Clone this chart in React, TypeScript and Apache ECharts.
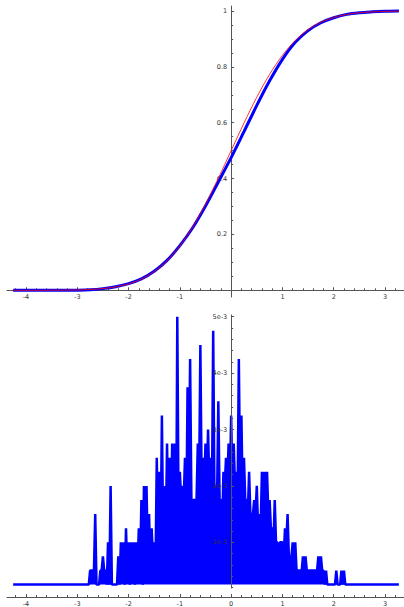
import React, { useEffect, useRef } from 'react';
import * as echarts from 'echarts';

// ---- Top panel: cumulative distribution ----
const cdfX = [-4.25, -4.0, -3.75, -3.5, -3.25, -3.0, -2.75, -2.5, -2.25, -2.0, -1.75, -1.5, -1.25, -1.0, -0.75, -0.5, -0.25, 0.0, 0.25, 0.5, 0.75, 1.0, 1.25, 1.5, 1.75, 2.0, 2.25, 2.5, 2.75, 3.0, 3.25, 3.27];
const normalCdf = [0.00001, 0.00003, 0.00009, 0.00023, 0.00058, 0.00135, 0.00298, 0.00621, 0.01222, 0.02275, 0.04006, 0.06681, 0.10565, 0.15866, 0.22663, 0.30854, 0.40129, 0.5, 0.59871, 0.69146, 0.77337, 0.84134, 0.89435, 0.93319, 0.95994, 0.97725, 0.98778, 0.99379, 0.99702, 0.99865, 0.99942, 0.99946];
const empiricalCdf = [0.0, 0.0, 0.0, 0.0, 0.0, 0.0005, 0.002, 0.006, 0.013, 0.024, 0.041, 0.068, 0.107, 0.160, 0.224, 0.302, 0.388, 0.475, 0.568, 0.662, 0.750, 0.827, 0.888, 0.930, 0.958, 0.976, 0.988, 0.994, 0.997, 0.999, 1.0, 1.0];

// ---- Bottom panel: density trace (values in units of 1e-3) ----
const sampleMin = -4.25;
const sampleMax = 3.27;
const histBaseline = 0.25;
const histStart = -2.8;
const histStep = 0.05;
const histPeaks = [
  0.25, 0.5, 0.5, 1.5, 0.25, 0.5, 0.75, 0.5, 1.0, 2.0,
  0.25, 0.25, 0.75, 1.0, 1.0, 1.25, 1.0, 1.0, 1.0, 1.0,
  1.25, 1.75, 2.0, 2.0, 1.5, 1.25, 1.0, 2.5, 2.25, 3.25,
  2.0, 2.75, 2.5, 2.75, 2.75, 5.0, 2.25, 2.0, 2.5, 3.75,
  4.25, 1.75, 1.75, 2.75, 4.5, 2.5, 2.75, 3.0, 2.5, 4.75,
  2.0, 3.5, 1.75, 2.25, 2.5, 2.75, 3.25, 2.75, 2.25, 4.25,
  3.25, 2.5, 1.75, 2.25, 1.5, 1.75, 2.0, 1.5, 2.25, 2.25,
  2.25, 1.75, 1.25, 1.75, 1.0, 1.0, 1.0, 1.25, 1.5, 0.75,
  1.0, 1.0, 0.5, 0.5, 0.75, 0.75, 0.5, 0.5, 0.5, 0.5,
  0.75, 0.75, 0.5, 0.5, 0.25, 0.25, 0.25, 0.5, 0.25, 0.5,
  0.5, 0.25, 0.25,
];
const histTroughs = [
  0.25, 0.5, 0.5, 0.25, 0.25, 0.5, 0.5, 0.25, 0.25, 0.25,
  0.25, 0.25, 0.25, 0.5, 0.25, 0.5, 0.25, 0.5, 0.25, 0.5,
  0.5, 0.25, 0.5, 0.75, 0.5, 0.75, 0.5, 1.0, 1.0, 1.0,
  1.0, 1.5, 1.25, 1.5, 0.5, 1.5, 1.75, 1.75, 1.25, 2.0,
  1.75, 1.75, 1.75, 2.0, 2.0, 2.0, 2.0, 2.0, 1.75, 1.75,
  1.75, 1.75, 1.25, 2.0, 2.0, 2.0, 2.0, 2.0, 1.75, 2.0,
  1.75, 1.75, 1.5, 1.5, 1.5, 1.5, 1.25, 1.25, 1.75, 1.75,
  1.5, 1.25, 1.0, 1.0, 0.75, 1.0, 0.75, 1.0, 0.75, 0.75,
  0.75, 0.5, 0.5, 0.5, 0.5, 0.5, 0.5, 0.5, 0.5, 0.5,
  0.5, 0.5, 0.25, 0.25, 0.25, 0.25, 0.25, 0.25, 0.25, 0.25,
  0.25, 0.25, 0.25,
];

// ---- Ticks ----
const xTickValues = [-4, -3, -2, -1, 0, 1, 2, 3];
const topXLabels = [-4, -3, -2, -1, 1, 2, 3];
const cdfYTicks = [0.2, 0.4, 0.6, 0.8, 1];
const densYTicks = [1, 2, 3, 4, 5]; // ×1e-3

const X_MIN = -4.37;
const X_MAX = 3.37;
const CDF_Y_MIN = -0.024;
const CDF_Y_MAX = 1.018;
const GRID_LEFT = 7;
const GRID_W = 397;
const TOP_GRID_TOP = 6;
const TOP_GRID_H = 291;
// distance (px) from the top grid's bottom edge up to y = 0
const TOP_ZERO_OFFSET = (TOP_GRID_H * (0 - CDF_Y_MIN)) / (CDF_Y_MAX - CDF_Y_MIN);
// distance (px) from the grid's left edge right to x = 0
const X_ZERO_OFFSET = (GRID_W * (0 - X_MIN)) / (X_MAX - X_MIN);

function minorBetween(lo: number, hi: number, step: number, majorStep: number) {
  const out: number[] = [];
  const n = Math.round((hi - lo) / step);
  for (let i = 0; i <= n; i++) {
    const v = +(lo + i * step).toFixed(6);
    const r = v / majorStep;
    if (Math.abs(r - Math.round(r)) > 1e-6) out.push(v);
  }
  return out;
}

const xMinor = minorBetween(-4.2, 3.2, 0.2, 1);
const cdfYMinor = minorBetween(0.05, 0.95, 0.05, 0.2);
const densYMinor = minorBetween(0.2, 4.8, 0.2, 1).map((v) => v * 1e-3);

const AXIS_COLOR = '#555';
const LABEL = { color: '#333', fontSize: 6.5, fontFamily: 'DejaVu Sans' };

export default function App() {
  const ref = useRef<HTMLDivElement>(null);
  useEffect(() => {
    if (!ref.current) return;
    const chart = echarts.init(ref.current, undefined, { renderer: 'svg' });

    const cdfEmp = cdfX.map((x, i) => [x, empiricalCdf[i]]);
    const cdfNorm = cdfX.map((x, i) => [x, normalCdf[i]]);

    const dens: number[][] = [[sampleMin, histBaseline * 1e-3]];
    histPeaks.forEach((p, i) => {
      const x = histStart + i * histStep;
      dens.push([x, p * 1e-3]);
      dens.push([x + histStep / 2, histTroughs[i] * 1e-3]);
    });
    dens.push([sampleMax, histBaseline * 1e-3]);

    const majorX = (gridIndex: number, labels: number[], offset: number) => ({
      type: 'value', gridIndex, min: X_MIN, max: X_MAX, position: 'bottom', offset,
      axisLine: { show: true, onZero: false, lineStyle: { color: AXIS_COLOR, width: 1 } },
      axisTick: { show: true, inside: true, length: 3, customValues: xTickValues, lineStyle: { color: AXIS_COLOR } },
      axisLabel: { show: true, customValues: labels, margin: 3, ...LABEL, formatter: (v: number) => `${v}` },
      splitLine: { show: false },
    });
    const minorX = (gridIndex: number, offset: number) => ({
      type: 'value', gridIndex, min: X_MIN, max: X_MAX, position: 'bottom', offset,
      axisLine: { show: false, onZero: false },
      axisTick: { show: true, inside: true, length: 2, customValues: xMinor, lineStyle: { color: AXIS_COLOR } },
      axisLabel: { show: false },
      splitLine: { show: false },
    });
    const majorY = (gridIndex: number, min: number, max: number, ticks: number[], fmt: (v: number) => string, z: number) => ({
      type: 'value', gridIndex, min, max, position: 'left', offset: -X_ZERO_OFFSET, z,
      axisLine: { show: true, onZero: false, lineStyle: { color: AXIS_COLOR, width: 1 } },
      axisTick: { show: true, inside: true, length: 3, customValues: ticks, lineStyle: { color: AXIS_COLOR } },
      axisLabel: { show: true, customValues: ticks, margin: 4, ...LABEL, formatter: fmt },
      splitLine: { show: false },
    });
    const minorY = (gridIndex: number, min: number, max: number, ticks: number[], z: number) => ({
      type: 'value', gridIndex, min, max, position: 'left', offset: -X_ZERO_OFFSET, z,
      axisLine: { show: false, onZero: false },
      axisTick: { show: true, inside: true, length: 2, customValues: ticks, lineStyle: { color: AXIS_COLOR } },
      axisLabel: { show: false },
      splitLine: { show: false },
    });

    const densTicks = densYTicks.map((v) => v * 1e-3);

    chart.setOption({
      animation: false,
      backgroundColor: '#ffffff',
      grid: [
        { left: GRID_LEFT, width: GRID_W, top: TOP_GRID_TOP, height: TOP_GRID_H, containLabel: false, outerBoundsMode: 'none' },
        { left: GRID_LEFT, width: GRID_W, top: 315, height: 273, containLabel: false, outerBoundsMode: 'none' },
      ],
      xAxis: [
        majorX(0, topXLabels, -TOP_ZERO_OFFSET),
        minorX(0, -TOP_ZERO_OFFSET),
        majorX(1, xTickValues, 9),
        minorX(1, 9),
      ],
      yAxis: [
        majorY(0, CDF_Y_MIN, CDF_Y_MAX, cdfYTicks, (v: number) => `${+v.toFixed(1)}`, 0),
        minorY(0, CDF_Y_MIN, CDF_Y_MAX, cdfYMinor, 0),
        majorY(1, 0.19e-3, 5.03e-3, densTicks, (v: number) => `${Math.round(v * 1000)}e-3`, 10),
        minorY(1, 0.19e-3, 5.03e-3, densYMinor, 10),
      ],
      series: [
        {
          type: 'line', xAxisIndex: 0, yAxisIndex: 0, data: cdfEmp, showSymbol: false, smooth: 0.3,
          lineStyle: { color: '#0000ff', width: 3 }, z: 2,
        },
        {
          type: 'line', xAxisIndex: 0, yAxisIndex: 0, data: cdfNorm, showSymbol: false, smooth: 0.3,
          lineStyle: { color: '#ff0000', width: 1, opacity: 0.8 }, z: 3,
        },
        {
          type: 'line', xAxisIndex: 2, yAxisIndex: 2, data: dens, showSymbol: false,
          lineStyle: { color: '#0000ff', width: 2.5 },
          areaStyle: { color: '#0000ff', opacity: 1, origin: histBaseline * 1e-3 },
          z: 2,
        },
      ],
    });
    return () => chart.dispose();
  }, []);

  return <div ref={ref} style={{ position: 'fixed', left: 0, top: 0, width: 404, height: 607 }} />;
}
